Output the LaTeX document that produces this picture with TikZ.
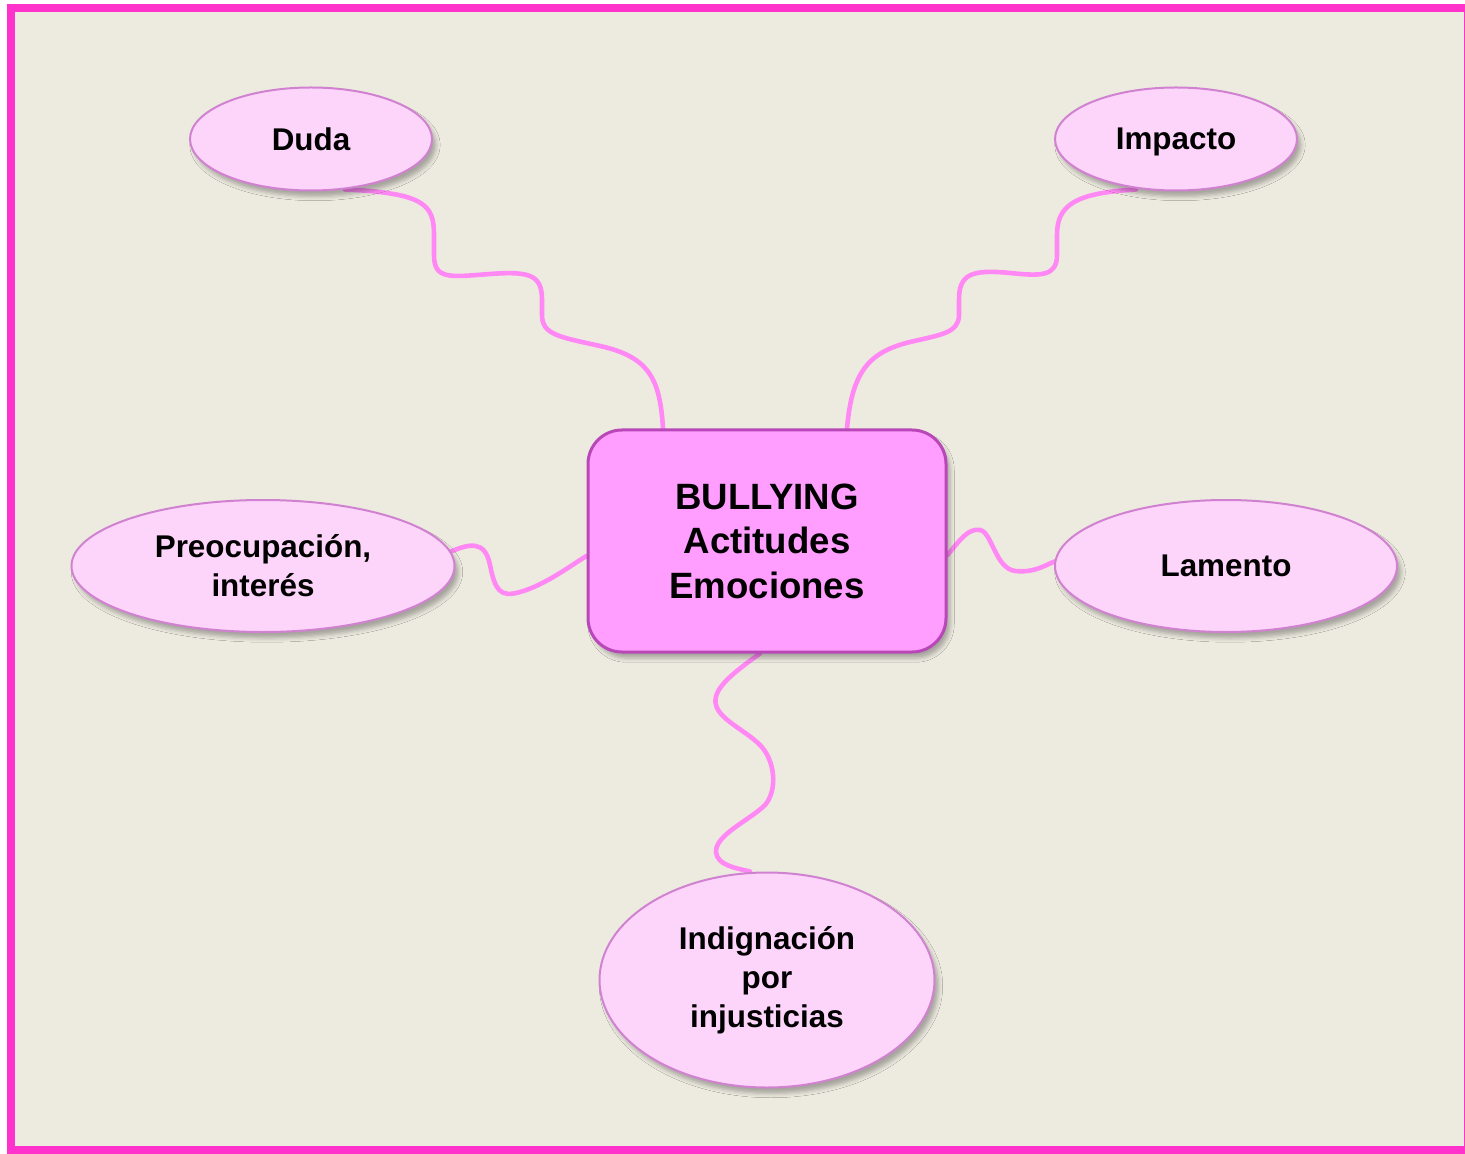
\documentclass[tikz,border=0pt]{standalone}
\usepackage{fontspec}
\setmainfont{Liberation Sans}
\usepackage{tikz}
\usetikzlibrary{shapes.geometric}
\usetikzlibrary{backgrounds, shadows.blur}
\definecolor{marco}{RGB}{255,51,204}
\definecolor{fondo}{RGB}{237,235,224}
\definecolor{burbuja}{RGB}{253,213,251}
\definecolor{burbuja-borde}{RGB}{208,130,208}
\definecolor{centro}{RGB}{255,158,255}
\definecolor{centro-borde}{RGB}{184,72,184}
\definecolor{rama-rosa}{RGB}{255,136,245}

\begin{document}
\begin{tikzpicture}[x=0.5pt, y=-0.5pt,
    idea/.style={ellipse, draw=burbuja-borde, line width=1pt, fill=burbuja, inner sep=0pt, align=center,
        font=\fontsize{15.7}{19.5}\selectfont\bfseries,
        blur shadow={shadow xshift=2pt, shadow yshift=-3pt, shadow opacity=30}},
    tema/.style={rectangle, rounded corners=17pt, draw=centro-borde, line width=1.5pt, fill=centro, align=center,
        font=\fontsize{18.3}{22.3}\selectfont\bfseries,
        blur shadow={shadow xshift=2pt, shadow yshift=-3pt, shadow opacity=30}},
    rama/.style={draw=rama-rosa, line width=2.3pt, line cap=round}]

    \useasboundingbox (0,0) rectangle (1465,1154);

    \node[tema, minimum width=179pt, minimum height=111pt] (bullying) at (767,541) {BULLYING\\Actitudes\\Emociones};

    \node[idea, minimum width=121pt, minimum height=51.5pt] (duda) at (311,139) {Duda};
    \node[idea, minimum width=121pt, minimum height=51.5pt, text depth=0pt] (impacto) at (1176,139) {Impacto};
    \node[idea, minimum width=191.5pt, minimum height=66pt] (preocupacion) at (263,566) {Preocupación,\\interés};
    \node[idea, minimum width=171pt, minimum height=66pt] (lamento) at (1226,566) {Lamento};
    \node[idea, minimum width=167.5pt, minimum height=107.5pt] (indignacion) at (767,980) {Indignación\\por\\injusticias};

    \begin{pgfonlayer}{background}
        \fill[white] (0,0) rectangle (1465,1154);
        \fill[fondo] (11,8) rectangle (1468,1150);
        \draw[marco, line width=4pt] (11,8) rectangle (1468,1150);

        % ramas
        \draw[rama] ([xshift=17pt,yshift=1pt]duda.south)
            .. controls (425,193) and (434,205) .. (434,235)
            -- (434,255) .. controls (434,280) and (450,277) .. (490,274)
            .. controls (530,271) and (542,275) .. (542,300)
            -- (542,315) .. controls (542,335) and (560,337) .. (600,346)
            .. controls (650,357) and (660,380) .. ([xshift=-52pt]bullying.north);
        \draw[rama] ([xshift=-20pt,yshift=1pt]impacto.south)
            .. controls (1075,193) and (1057,205) .. (1057,235)
            -- (1057,255) .. controls (1057,277) and (1040,276) .. (1010,273)
            .. controls (970,269) and (959,275) .. (959,300)
            -- (959,315) .. controls (959,333) and (940,335) .. (910,342)
            .. controls (870,352) and (852,370) .. ([xshift=40pt]bullying.north);
        \draw[rama] ([xshift=-4pt,yshift=6.5pt]preocupacion.east)
            .. controls (470,543) and (485,540) .. (490,565)
            .. controls (495,590) and (500,598) .. (520,592)
            .. controls (545,585) and (570,566) .. ([yshift=-7.5pt]bullying.west);
        \draw[rama] ([yshift=-7pt]bullying.east)
            .. controls (960,540) and (968,528) .. (980,530)
            .. controls (992,532) and (995,568) .. (1015,571)
            .. controls (1035,573) and (1045,565) .. ([xshift=1pt,yshift=2.5pt]lamento.west);
        \draw[rama] ([xshift=-3.5pt]bullying.south)
            .. controls (730,675) and (712,690) .. (716,705)
            .. controls (720,720) and (745,730) .. (760,745)
            .. controls (775,760) and (778,790) .. (765,805)
            .. controls (750,820) and (715,835) .. (716,852)
            .. controls (717,865) and (735,868) .. ([xshift=-8.5pt]indignacion.north);
    \end{pgfonlayer}

\end{tikzpicture}
\end{document}
